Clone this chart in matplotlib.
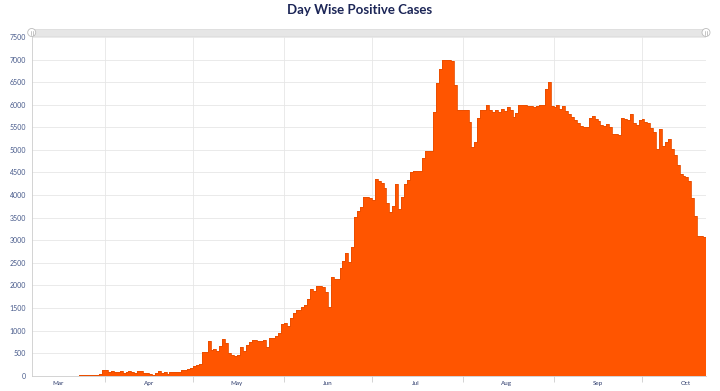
import datetime as dt

import matplotlib
matplotlib.use("Agg")
import matplotlib.pyplot as plt
import matplotlib.dates as mdates
from matplotlib.patches import Rectangle, Ellipse
import numpy as np

# daily positive cases, 7 Mar 2020 .. 22 Oct 2020
start_day = dt.date(2020, 3, 7)
mar_cases = [1, 0, 0, 0, 0, 0, 0, 0, 0, 0, 0, 1, 0, 1, 2, 3, 6,
             20, 8, 25, 10, 20, 12, 45, 117]
apr_cases = [117, 88, 110, 88, 88, 95, 59, 73, 103, 81, 59, 103, 103, 60, 60,
             29, 22, 51, 110, 51, 81, 37, 73, 73, 73, 73, 132, 117, 141, 170]
may_cases = [210, 240, 265, 535, 515, 770, 565, 595, 540, 660,
             806, 732, 512, 460, 444, 450, 643, 547, 690, 754,
             782, 782, 765, 772, 800, 645, 825, 830, 870, 940, 1155]
jun_cases = [1160, 1090, 1268, 1397, 1445, 1463, 1529, 1566, 1691, 1926,
             1875, 1990, 1990, 1975, 1850, 1529, 2178, 2149, 2134, 2393,
             2533, 2725, 2526, 2858, 3523, 3656, 3730, 3958, 3955, 3930]
jul_cases = [3890, 4350, 4320, 4276, 4150, 3833, 3633, 3766, 4246, 3685,
             3966, 4246, 4335, 4500, 4525, 4540, 4541, 4815, 4985, 4985,
             4975, 5849, 6477, 6787, 6990, 6990, 6993, 6975, 6440, 5886, 5886]
aug_cases = [5886, 5886, 5620, 5073, 5184, 5700, 5886, 5890, 5996, 5880,
             5849, 5886, 5849, 5900, 5860, 5945, 5880, 5730, 5812, 5996,
             5995, 5990, 5980, 5975, 5960, 5975, 5990, 6000, 6340, 6499, 5965]
sep_cases = [5945, 5990, 5900, 5975, 5860, 5790, 5720, 5660, 5600, 5540,
             5515, 5505, 5700, 5752, 5690, 5640, 5560, 5520, 5570, 5500,
             5360, 5350, 5340, 5700, 5680, 5660, 5795, 5600, 5550, 5665]
oct_cases = [5690, 5625, 5600, 5490, 5400, 5030, 5455, 5090, 5185, 5240,
             5030, 4885, 4668, 4468, 4425, 4400, 4305, 3925, 3540, 3098,
             3090, 3080]

cases = np.array(mar_cases + apr_cases + may_cases + jun_cases +
                 jul_cases + aug_cases + sep_cases + oct_cases, dtype=float)
y_ticks = list(range(0, 7501, 500))

W, H = 720, 391
fig = plt.figure(figsize=(W / 100, H / 100), dpi=100)
ax = fig.add_axes([31.7 / W, 1 - 375.7 / H, (706 - 31.7) / W, (375.7 - 37) / H])

x0 = mdates.date2num(start_day)
edges = x0 + np.arange(len(cases) + 1)
vals = np.r_[cases, cases[-1]]
ax.fill_between(edges, vals, step="post", color="#ff5500", lw=0, zorder=2)
ax.step(edges, vals, where="post", color="#e84d00", lw=0.6, zorder=3)

ax.set_xlim(edges[0], edges[-1])
ax.set_ylim(0, 7500)
ax.set_yticks(y_ticks)
ax.tick_params(axis="y", length=0, pad=4, labelsize=5, labelcolor="#46598a")

ax.xaxis.set_major_locator(mdates.MonthLocator())
ax.xaxis.set_major_formatter(plt.NullFormatter())
ax.xaxis.set_minor_locator(mdates.MonthLocator(bymonthday=16))
ax.xaxis.set_minor_formatter(mdates.DateFormatter("%b"))
ax.tick_params(axis="x", which="major", length=4, color="#cccccc", width=0.6)
ax.tick_params(axis="x", which="minor", length=0, pad=4, labelsize=4.5,
               labelcolor="#2b3a6b")

ax.grid(True, which="major", color="#e6e6e6", lw=0.6, zorder=0)
ax.set_axisbelow(True)
for s in ["top", "right"]:
    ax.spines[s].set_visible(False)
ax.spines["left"].set_color("#cccccc")
ax.spines["left"].set_linewidth(0.6)
ax.spines["bottom"].set_color("#cccccc")
ax.spines["bottom"].set_linewidth(0.6)

for lab in ax.get_yticklabels() + ax.get_xticklabels(minor=True):
    lab.set_family("Lato")

# scrollbar across the top
fig.add_artist(Rectangle((31.7 / W, 1 - 36 / H), (706 - 31.7) / W, 7 / H,
                         transform=fig.transFigure, facecolor="#e6e6e6",
                         edgecolor="#d8d8d8", lw=0.5))
for hx in [31.7, 706]:
    fig.add_artist(Ellipse((hx / W, 1 - 32.5 / H), 8 / W, 8 / H,
                           transform=fig.transFigure, facecolor="white",
                           edgecolor="#bbbbbb", lw=0.6))
    for dx in [-0.8, 0.8]:
        fig.add_artist(plt.Line2D([(hx + dx) / W] * 2,
                                  [1 - 30.5 / H, 1 - 34.5 / H],
                                  transform=fig.transFigure,
                                  color="#999999", lw=0.4))

fig.text(0.5, 1 - 10 / H, "Day Wise Positive Cases", ha="center", va="center",
         fontsize=9.5, fontweight="bold", color="#1c2657", family="Lato")

fig.savefig("out.png", dpi=100)
